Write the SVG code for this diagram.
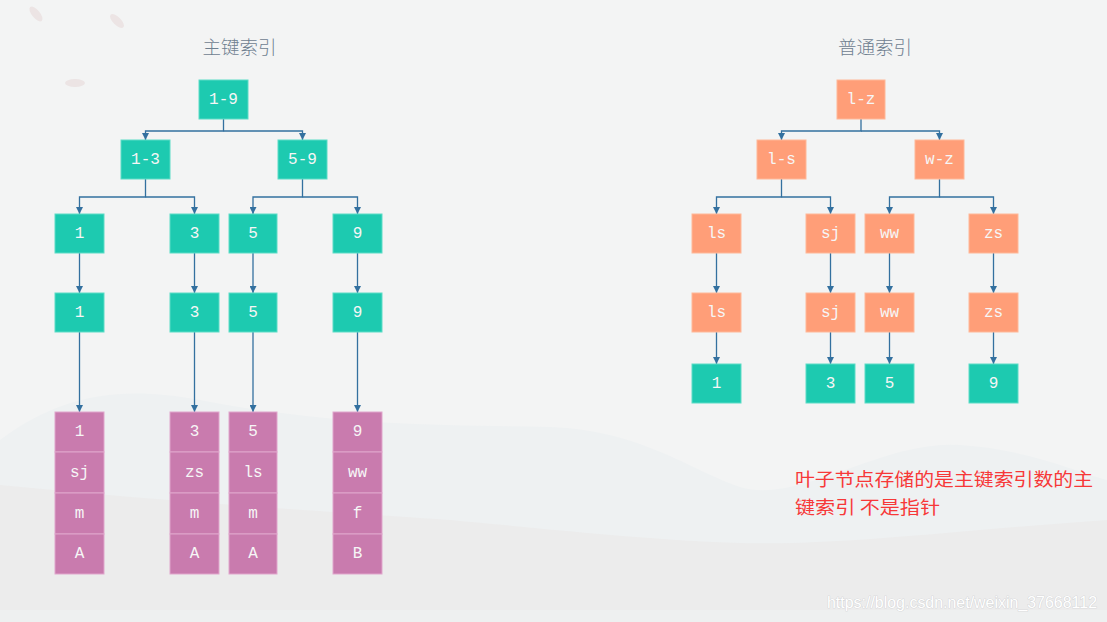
<svg xmlns="http://www.w3.org/2000/svg" width="1107" height="622" viewBox="0 0 1107 622">
<style>
.bg{fill:#f3f4f4}
.t{fill:#1dcab0;stroke:#5cdcc6;stroke-width:1}
.o{fill:#ff9e78;stroke:#ffb898;stroke-width:1}
.p{fill:#c97bae;stroke:#e0a6cc;stroke-width:1}
.lbl{font-family:"Liberation Mono","DejaVu Sans Mono",monospace;font-size:16px;fill:#f6f6f6;text-anchor:middle;dominant-baseline:central}
.title{font-family:"Noto Sans CJK SC",sans-serif;font-size:18.5px;fill:#6f8090;text-anchor:middle;font-weight:300}
.note{font-family:"Noto Sans CJK SC",sans-serif;font-size:18px;fill:#f73838}
.wm{font-family:"Liberation Sans",Arial,sans-serif;font-size:16px;fill:#ffffff;stroke:#c9cbcc;stroke-width:0.7;paint-order:stroke}
.c{fill:none;stroke:#33709f;stroke-width:1.3}
</style>
<defs>
<marker id="ah" viewBox="0 0 10 10" refX="10" refY="5" markerWidth="7" markerHeight="7" markerUnits="userSpaceOnUse" orient="auto">
<path d="M0,0 L10,5 L0,10 z" fill="#33709f"/>
</marker>
</defs>
<g id="background">
<rect class="bg" x="0" y="0" width="1107" height="622"/>
<path d="M0,440 C60,395 120,385 200,400 C330,425 430,425 550,427 C640,430 690,470 740,487 C800,505 880,440 960,445 C1030,450 1070,470 1107,480 L1107,622 L0,622 z" fill="#eef1f2"/>
<path d="M0,485 C150,500 300,510 450,520 C560,530 650,540 740,543 C840,546 960,530 1107,520 L1107,622 L0,622 z" fill="#ececec"/>
<rect x="0" y="610" width="1107" height="12" fill="#eef0f0"/>
<ellipse cx="36" cy="14" rx="9" ry="4" transform="rotate(50 36 14)" fill="#ece4e4"/>
<ellipse cx="117" cy="21" rx="9" ry="4" transform="rotate(45 117 21)" fill="#ece4e4"/>
<ellipse cx="75" cy="83" rx="10" ry="4" fill="#ece4e4"/>
</g>
<text class="title" x="239.5" y="54">主键索引</text>
<text class="title" x="875" y="54">普通索引</text>
<g id="connectors">
<path class="c" d="M223.5,119 V131 H145.5 V140" marker-end="url(#ah)"/>
<path class="c" d="M223.5,131 H302.5 V140" marker-end="url(#ah)"/>
<path class="c" d="M145.5,179 V197 H79.5 V214" marker-end="url(#ah)"/>
<path class="c" d="M145.5,197 H194.5 V214" marker-end="url(#ah)"/>
<path class="c" d="M302.5,179 V197 H253 V214" marker-end="url(#ah)"/>
<path class="c" d="M302.5,197 H357.5 V214" marker-end="url(#ah)"/>
<path class="c" d="M79.5,253 V293" marker-end="url(#ah)"/>
<path class="c" d="M194.5,253 V293" marker-end="url(#ah)"/>
<path class="c" d="M253,253 V293" marker-end="url(#ah)"/>
<path class="c" d="M357.5,253 V293" marker-end="url(#ah)"/>
<path class="c" d="M79.5,332 V412" marker-end="url(#ah)"/>
<path class="c" d="M194.5,332 V412" marker-end="url(#ah)"/>
<path class="c" d="M253,332 V412" marker-end="url(#ah)"/>
<path class="c" d="M357.5,332 V412" marker-end="url(#ah)"/>
<path class="c" d="M861,119 V131 H781.5 V140" marker-end="url(#ah)"/>
<path class="c" d="M861,131 H939.5 V140" marker-end="url(#ah)"/>
<path class="c" d="M781.5,179 V197 H716.5 V214" marker-end="url(#ah)"/>
<path class="c" d="M781.5,197 H830.5 V214" marker-end="url(#ah)"/>
<path class="c" d="M939.5,179 V197 H889.5 V214" marker-end="url(#ah)"/>
<path class="c" d="M939.5,197 H993.5 V214" marker-end="url(#ah)"/>
<path class="c" d="M716.5,253 V293" marker-end="url(#ah)"/>
<path class="c" d="M830.5,253 V293" marker-end="url(#ah)"/>
<path class="c" d="M889.5,253 V293" marker-end="url(#ah)"/>
<path class="c" d="M993.5,253 V293" marker-end="url(#ah)"/>
<path class="c" d="M716.5,332 V364" marker-end="url(#ah)"/>
<path class="c" d="M830.5,332 V364" marker-end="url(#ah)"/>
<path class="c" d="M889.5,332 V364" marker-end="url(#ah)"/>
<path class="c" d="M993.5,332 V364" marker-end="url(#ah)"/>
</g>
<!-- left tree -->
<g id="p-root"><rect class="t" x="199" y="80" width="49" height="39"/><text class="lbl" x="223.5" y="99.5">1-9</text></g>
<g id="p-1-3"><rect class="t" x="121" y="140" width="49" height="39"/><text class="lbl" x="145.5" y="159.5">1-3</text></g>
<g id="p-5-9"><rect class="t" x="278" y="140" width="49" height="39"/><text class="lbl" x="302.5" y="159.5">5-9</text></g>
<g id="p-l3-1"><rect class="t" x="55" y="214" width="49" height="39"/><text class="lbl" x="79.5" y="233.5">1</text></g>
<g id="p-l3-3"><rect class="t" x="170" y="214" width="49" height="39"/><text class="lbl" x="194.5" y="233.5">3</text></g>
<g id="p-l3-5"><rect class="t" x="229" y="214" width="48" height="39"/><text class="lbl" x="253" y="233.5">5</text></g>
<g id="p-l3-9"><rect class="t" x="333" y="214" width="49" height="39"/><text class="lbl" x="357.5" y="233.5">9</text></g>
<g id="p-l4-1"><rect class="t" x="55" y="293" width="49" height="39"/><text class="lbl" x="79.5" y="312.5">1</text></g>
<g id="p-l4-3"><rect class="t" x="170" y="293" width="49" height="39"/><text class="lbl" x="194.5" y="312.5">3</text></g>
<g id="p-l4-5"><rect class="t" x="229" y="293" width="48" height="39"/><text class="lbl" x="253" y="312.5">5</text></g>
<g id="p-l4-9"><rect class="t" x="333" y="293" width="49" height="39"/><text class="lbl" x="357.5" y="312.5">9</text></g>
<g id="row-1">
<rect class="p" x="55" y="412" width="49" height="40"/><text class="lbl" x="79.5" y="432">1</text>
<rect class="p" x="55" y="452" width="49" height="41"/><text class="lbl" x="79.5" y="472.5">sj</text>
<rect class="p" x="55" y="493" width="49" height="41"/><text class="lbl" x="79.5" y="513.5">m</text>
<rect class="p" x="55" y="534" width="49" height="40"/><text class="lbl" x="79.5" y="554">A</text>
</g>
<g id="row-3">
<rect class="p" x="170" y="412" width="49" height="40"/><text class="lbl" x="194.5" y="432">3</text>
<rect class="p" x="170" y="452" width="49" height="41"/><text class="lbl" x="194.5" y="472.5">zs</text>
<rect class="p" x="170" y="493" width="49" height="41"/><text class="lbl" x="194.5" y="513.5">m</text>
<rect class="p" x="170" y="534" width="49" height="40"/><text class="lbl" x="194.5" y="554">A</text>
</g>
<g id="row-5">
<rect class="p" x="229" y="412" width="48" height="40"/><text class="lbl" x="253" y="432">5</text>
<rect class="p" x="229" y="452" width="48" height="41"/><text class="lbl" x="253" y="472.5">ls</text>
<rect class="p" x="229" y="493" width="48" height="41"/><text class="lbl" x="253" y="513.5">m</text>
<rect class="p" x="229" y="534" width="48" height="40"/><text class="lbl" x="253" y="554">A</text>
</g>
<g id="row-9">
<rect class="p" x="333" y="412" width="49" height="40"/><text class="lbl" x="357.5" y="432">9</text>
<rect class="p" x="333" y="452" width="49" height="41"/><text class="lbl" x="357.5" y="472.5">ww</text>
<rect class="p" x="333" y="493" width="49" height="41"/><text class="lbl" x="357.5" y="513.5">f</text>
<rect class="p" x="333" y="534" width="49" height="40"/><text class="lbl" x="357.5" y="554">B</text>
</g>
<!-- right tree -->
<g id="s-root"><rect class="o" x="837" y="80" width="48" height="39"/><text class="lbl" x="861" y="99.5">l-z</text></g>
<g id="s-l-s"><rect class="o" x="757" y="140" width="49" height="39"/><text class="lbl" x="781.5" y="159.5">l-s</text></g>
<g id="s-w-z"><rect class="o" x="915" y="140" width="49" height="39"/><text class="lbl" x="939.5" y="159.5">w-z</text></g>
<g id="s-l3-ls"><rect class="o" x="692" y="214" width="49" height="39"/><text class="lbl" x="716.5" y="233.5">ls</text></g>
<g id="s-l3-sj"><rect class="o" x="806" y="214" width="49" height="39"/><text class="lbl" x="830.5" y="233.5">sj</text></g>
<g id="s-l3-ww"><rect class="o" x="865" y="214" width="49" height="39"/><text class="lbl" x="889.5" y="233.5">ww</text></g>
<g id="s-l3-zs"><rect class="o" x="969" y="214" width="49" height="39"/><text class="lbl" x="993.5" y="233.5">zs</text></g>
<g id="s-l4-ls"><rect class="o" x="692" y="293" width="49" height="39"/><text class="lbl" x="716.5" y="312.5">ls</text></g>
<g id="s-l4-sj"><rect class="o" x="806" y="293" width="49" height="39"/><text class="lbl" x="830.5" y="312.5">sj</text></g>
<g id="s-l4-ww"><rect class="o" x="865" y="293" width="49" height="39"/><text class="lbl" x="889.5" y="312.5">ww</text></g>
<g id="s-l4-zs"><rect class="o" x="969" y="293" width="49" height="39"/><text class="lbl" x="993.5" y="312.5">zs</text></g>
<g id="s-pk-1"><rect class="t" x="692" y="364" width="49" height="39"/><text class="lbl" x="716.5" y="383.5">1</text></g>
<g id="s-pk-3"><rect class="t" x="806" y="364" width="49" height="39"/><text class="lbl" x="830.5" y="383.5">3</text></g>
<g id="s-pk-5"><rect class="t" x="865" y="364" width="49" height="39"/><text class="lbl" x="889.5" y="383.5">5</text></g>
<g id="s-pk-9"><rect class="t" x="969" y="364" width="49" height="39"/><text class="lbl" x="993.5" y="383.5">9</text></g>
<g id="note">
<text class="note" x="795" y="486" textLength="298" lengthAdjust="spacingAndGlyphs">叶子节点存储的是主键索引数的主</text>
<text class="note" x="795" y="514" textLength="145" lengthAdjust="spacingAndGlyphs">键索引 不是指针</text>
</g>
<text class="wm" x="827" y="608" textLength="270" lengthAdjust="spacingAndGlyphs">https://blog.csdn.net/weixin_37668112</text>
</svg>
